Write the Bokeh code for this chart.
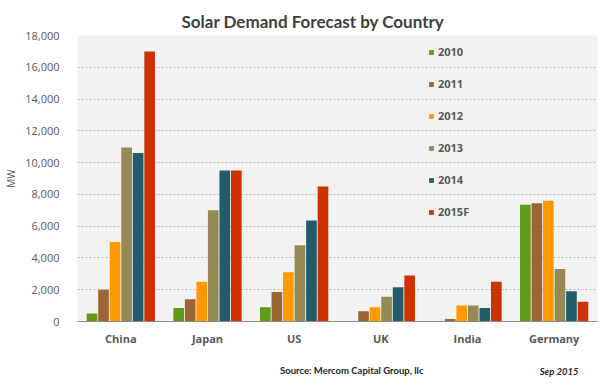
from bokeh.plotting import figure
from bokeh.layouts import column
from bokeh.models import (ColumnDataSource, FactorRange, Range1d, NumeralTickFormatter,
                          Legend, LegendItem, SingleIntervalTicker)
from bokeh.core.properties import value
from bokeh.transform import dodge
from bokeh.embed import file_html
from bokeh.resources import INLINE

countries = ["China", "Japan", "US", "UK", "India", "Germany"]
years = ["2010", "2011", "2012", "2013", "2014", "2015F"]
v2010 = [500, 850, 900, 0, 0, 7350]
v2011 = [2000, 1400, 1850, 650, 150, 7450]
v2012 = [5000, 2500, 3100, 900, 1000, 7600]
v2013 = [10950, 7000, 4800, 1550, 1000, 3300]
v2014 = [10600, 9500, 6350, 2150, 850, 1900]
v2015f = [17000, 9500, 8500, 2900, 2500, 1250]
series = [v2010, v2011, v2012, v2013, v2014, v2015f]
colors = ["#5f9b16", "#9b6535", "#ff9900", "#958a56", "#245b6b", "#cc3300"]

title_text = "Solar Demand Forecast by Country"
source_text = "Source: Mercom Capital Group, llc"
date_text = "Sep 2015"
y_label = "MW"

GRAY = "#595959"

data = {"country": countries}
for y, s in zip(years, series):
    data["y" + y] = s
src = ColumnDataSource(data)

p = figure(width=600, height=352, x_range=FactorRange(*countries),
           y_range=Range1d(0, 18000), output_backend="svg", toolbar_location=None,
           min_border_left=77, min_border_right=3, min_border_top=35, min_border_bottom=31)

p.background_fill_color = "#f2f2f2"
p.border_fill_color = "white"
p.outline_line_color = None

p.title.text = title_text
p.title.align = "left"
p.title.offset = 104
p.title.text_font = "Lato"
p.title.text_font_size = "17px"
p.title.text_font_style = "bold"
p.title.text_color = "#404040"
p.title.standoff = 7

step = 0.133
bw = 0.123
items = []
for i, (y, c) in enumerate(zip(years, colors)):
    r = p.vbar(x=dodge("country", (i - 2.5) * step, range=p.x_range), top="y" + y,
               width=bw, source=src, fill_color=c, line_color=None)
    items.append(LegendItem(label=y, renderers=[r]))

legend = Legend(items=items, location=(351, 102), padding=0, margin=0,
                glyph_width=6, glyph_height=6, label_height=14, spacing=17,
                label_standoff=4, border_line_color=None, background_fill_alpha=0,
                label_text_font="Open Sans", label_text_font_size="11px",
                label_text_font_style="bold", label_text_color=GRAY)
p.add_layout(legend, "center")

p.xgrid.grid_line_color = None
p.ygrid.grid_line_color = "#b8b8b8"
p.ygrid.grid_line_dash = "2 2"
p.ygrid.grid_line_width = 1

p.yaxis.ticker = SingleIntervalTicker(interval=2000)
p.yaxis.formatter = NumeralTickFormatter(format="0,0")
p.yaxis.axis_line_color = None
p.yaxis.major_tick_line_color = None
p.yaxis.minor_tick_line_color = None
p.yaxis.major_label_text_font = "Open Sans"
p.yaxis.major_label_text_font_size = "11px"
p.yaxis.major_label_text_color = GRAY
p.yaxis.major_label_standoff = 12
p.yaxis.axis_label = y_label
p.yaxis.axis_label_text_font = "Open Sans"
p.yaxis.axis_label_text_font_size = "10px"
p.yaxis.axis_label_text_font_style = "normal"
p.yaxis.axis_label_text_color = GRAY
p.yaxis.axis_label_standoff = 4

p.xaxis.axis_line_color = "#8c8c8c"
p.xaxis.major_tick_line_color = None
p.xaxis.minor_tick_line_color = None
p.xaxis.major_label_text_font = "Open Sans"
p.xaxis.major_label_text_font_size = "11px"
p.xaxis.major_label_text_font_style = "bold"
p.xaxis.major_label_text_color = GRAY
p.xaxis.major_label_standoff = 3

# footer strip with source and date notes
foot = figure(width=600, height=33, x_range=Range1d(0, 600), y_range=Range1d(0, 33),
              output_backend="svg", toolbar_location=None,
              min_border_left=0, min_border_right=0, min_border_top=0, min_border_bottom=0)
foot.axis.visible = False
foot.grid.visible = False
foot.outline_line_color = None
foot.background_fill_color = "white"
foot.border_fill_color = "white"
foot.text(x=[316.5], y=[15], text=[source_text], text_font=value("Lato"),
          text_font_size="9.5px", text_font_style="bold", text_color="#262626",
          text_align="center", text_baseline="middle")
foot.text(x=[578], y=[14], text=[date_text], text_font=value("Lato"),
          text_font_size="9.5px", text_font_style="bold italic", text_color="#262626",
          text_align="right", text_baseline="middle")

layout = column(p, foot, spacing=0)
open("out.html", "w").write(file_html(layout, INLINE))
